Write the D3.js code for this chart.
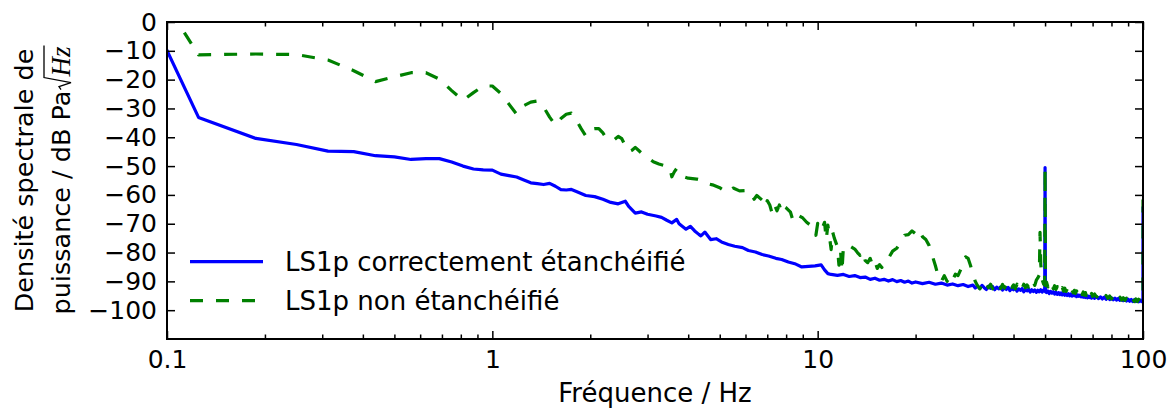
<!DOCTYPE html>
<html><head><meta charset="utf-8">
<script src="https://cdn.jsdelivr.net/npm/d3@7"></script>
<style>body{margin:0;background:#fff} svg text{font-family:"DejaVu Sans",sans-serif;fill:#000}</style>
</head><body><svg id="c" width="1173" height="411"></svg>
<script>
const xTicks=[0.1,1,10,100];
const xTickLabels=["0.1","1","10","100"];
const yTicks=[0,-10,-20,-30,-40,-50,-60,-70,-80,-90,-100];
const seriesNames=["LS1p correctement étanchéifié","LS1p non étanchéifié"];
const xLabel="Fréquence / Hz";
const yLabel1="Densité spectrale de";
const yLabel2="puissance / dB Pa";
const yLabelUnit="Hz";

// [frequency Hz, dB]
const blueData=[
[0.0625,39],[0.125,-33.1],[0.1875,-40.4],[0.25,-42.5],[0.3125,-44.8],[0.375,-45.0],[0.4375,-46.4],[0.5,-46.8],
[0.5625,-47.7],[0.625,-47.4],[0.6875,-47.4],[0.75,-48.6],[0.8125,-50.0],[0.875,-51.0],[0.9375,-51.3],[1.0,-51.4],
[1.0625,-52.8],[1.125,-53.3],[1.1875,-53.8],[1.25,-54.8],[1.3125,-55.8],[1.375,-56.1],[1.4375,-56.4],[1.5,-56.0],
[1.5625,-57.0],[1.625,-58.2],[1.6875,-58.3],[1.75,-58.1],[1.8125,-58.8],[1.9375,-60.2],[2.0625,-60.6],[2.1875,-61.5],
[2.3125,-62.6],[2.4375,-63.1],[2.5625,-62.2],[2.625,-64.0],[2.75,-66.3],[2.875,-65.9],[3.0,-66.7],[3.1875,-67.3],
[3.3125,-67.8],[3.4375,-68.8],[3.5625,-69.7],[3.6875,-68.5],[3.75,-70.0],[3.9375,-71.9],[4.0625,-70.9],[4.1875,-72.5],
[4.3125,-73.7],[4.375,-74.2],[4.5,-72.9],[4.6875,-75.5],[4.875,-75.2],[5.0625,-76.3],[5.3125,-77.2],[5.5625,-77.8],
[5.875,-78.3],[6.125,-79.3],[6.4375,-79.8],[6.75,-80.7],[7.0625,-81.2],[7.4375,-82.0],[7.75,-82.4],[8.125,-83.3],
[8.5625,-84.0],[8.9375,-85.0],[9.375,-84.8],[9.8125,-84.6],[10.25,-84.3],[10.5,-86.0],[10.75,-87.3],[11.0,-87.6],
[11.5,-87.9],[12.0,-87.6],[12.5,-88.3],[13.0,-88.0],[13.5,-88.7],[14.0,-88.5],[14.5,-89.3],[15.0,-88.9],[15.5,-89.6],
[16.0,-89.3],[16.5,-89.9],[17.0,-89.4],[17.5,-90.1],[18.0,-89.7],[18.5,-90.3],[19.0,-89.9],[19.5,-90.6],[20.0,-90.2],
[21,-90.8],[22,-90.3],[23,-91.0],[24,-90.6],[25,-91.3],[26,-90.9],[27,-91.5],[28,-91.1],[29,-91.8],[30,-91.3],
[30.5,-92.3],[31,-91.6],[31.5,-92.5],[32,-91.4],[32.5,-92.2],[33,-92.8],[33.5,-91.7],[34,-92.4],[34.5,-91.8],[35,-92.9],
[35.5,-92.0],[36,-92.6],[36.5,-91.9],[37,-93.0],[37.5,-92.2],[38,-92.8],[38.5,-92.1],[39,-93.2],[39.5,-92.4],[40,-92.9],
[40.5,-92.3],[41,-93.4],[41.5,-92.6],[42,-93.1],[42.5,-92.5],[43,-93.6],[43.5,-92.8],[44,-93.3],[44.5,-92.7],[45,-93.7],
[45.5,-92.9],[46,-93.5],[46.5,-93.0],[47,-93.8],[47.5,-93.1],[48,-93.6],[48.5,-92.9],[49,-93.7],[49.5,-93.0],[49.875,-93.2],
[50,-50.5],[50.125,-93.6],[50.5,-93.9],[51,-93.3],[51.5,-94.2],[52,-93.5],[52.5,-94.1],[53,-93.6],[53.5,-94.4],[54,-93.8],
[54.5,-94.5],[55,-93.9],[55.5,-94.6],[56,-94.0],[56.5,-94.7],[57,-94.1],[57.5,-94.8],[58,-94.2],[58.5,-94.9],[59,-94.3],
[59.5,-95.0],[60,-94.4],[60.5,-95.1],[61,-94.5],[61.5,-95.0],[62,-94.6],[62.5,-95.3],[63,-94.7],[63.5,-95.2],[64,-94.8],
[64.5,-95.4],[65,-94.9],[65.5,-95.5],[66,-95.0],[66.5,-95.6],[67,-95.0],[67.5,-95.7],[68,-95.1],[68.5,-95.6],[69,-95.2],
[69.5,-95.8],[70,-95.2],[71,-95.9],[72,-95.3],[73,-96.0],[74,-95.4],[75,-96.1],[76,-95.5],[77,-96.2],[78,-95.6],
[79,-96.3],[80,-95.7],[81,-96.4],[82,-95.8],[83,-96.5],[84,-95.9],[85,-96.6],[86,-96.0],[87,-96.7],[88,-96.1],
[89,-96.8],[90,-96.2],[91,-96.9],[92,-96.3],[93,-97.0],[94,-96.4],[95,-97.0],[96,-96.5],[97,-97.1],[98,-96.5],
[99,-97.0],[99.9375,-96.6],[100,-64]
];
const greenData=[
[0.0625,42],[0.125,-11.4],[0.1875,-11.1],[0.25,-11.3],[0.3125,-13.2],[0.375,-16.9],[0.4375,-20.7],[0.5,-19.0],
[0.5625,-17.6],[0.625,-17.6],[0.6875,-19.8],[0.75,-23.8],[0.8125,-27.2],[0.875,-24.5],[0.9375,-22.2],[1.0,-22.2],
[1.0625,-24.8],[1.125,-28.5],[1.1875,-32.0],[1.25,-29.0],[1.3125,-27.8],[1.375,-27.4],[1.4375,-29.5],[1.5,-33.0],
[1.5625,-35.8],[1.625,-33.5],[1.6875,-32.0],[1.75,-31.6],[1.8125,-34.0],[1.875,-37.0],[1.9375,-39.5],[2.0,-37.2],
[2.0625,-37.0],[2.125,-37.0],[2.1875,-38.5],[2.25,-40.6],[2.3125,-41.0],[2.375,-40.8],[2.4375,-39.7],[2.5,-40.5],
[2.5625,-43.0],[2.625,-45.0],[2.6875,-44.5],[2.75,-43.5],[2.8125,-44.5],[2.875,-45.5],[3.0,-47.0],[3.125,-48.5],
[3.25,-49.3],[3.375,-49.8],[3.5,-50.2],[3.5625,-53.7],[3.625,-52.0],[3.6875,-50.8],[3.75,-51.5],[3.875,-53.7],
[4.0,-54.2],[4.25,-54.5],[4.5,-55.2],[4.625,-56.2],[4.75,-56.5],[5.0,-57.5],[5.125,-58.3],[5.25,-59.2],[5.5,-57.6],
[5.75,-58.6],[6.0,-58.5],[6.25,-59.0],[6.375,-61.5],[6.5,-60.2],[6.75,-61.8],[6.875,-64.2],[7.0,-62.0],[7.125,-63.5],
[7.25,-66.5],[7.375,-63.6],[7.5,-65.5],[7.625,-63.5],[7.75,-66.0],[7.875,-64.0],[8.0,-64.5],[8.25,-66.0],[8.375,-68.5],
[8.5,-66.5],[8.75,-67.2],[9.0,-68.0],[9.25,-69.5],[9.5,-70.5],[9.75,-71.5],[9.875,-74.0],[10.0,-69.9],[10.25,-72.5],
[10.5,-69.5],[10.625,-75.5],[10.75,-70.5],[10.875,-74.5],[11.0,-79.0],[11.125,-73.0],[11.25,-75.0],[11.5,-78.0],
[11.625,-84.4],[11.75,-79.0],[11.875,-86.5],[12.0,-78.0],[12.25,-77.4],[12.5,-77.6],[12.75,-78.2],[13.0,-78.8],
[13.25,-80.0],[13.5,-81.0],[13.75,-79.5],[14.0,-82.8],[14.25,-83.5],[14.5,-82.0],[14.75,-84.5],[15.0,-83.0],
[15.25,-85.5],[15.5,-84.2],[15.75,-85.2],[16.0,-83.0],[16.5,-82.0],[17.0,-79.5],[17.5,-78.5],[18.0,-76.5],[18.5,-74.0],
[19.0,-73.8],[19.5,-72.5],[20.0,-73.5],[20.5,-72.0],[21.0,-74.5],[21.5,-75.5],[22.0,-77.5],[22.5,-81.0],[23.0,-84.5],
[23.5,-88.4],[24.0,-90.0],[24.5,-88.0],[25.0,-90.0],[25.5,-88.0],[26.0,-89.5],[26.5,-87.5],[27.0,-88.0],[27.5,-86.0],
[28.0,-84.0],[28.5,-81.5],[29.0,-82.0],[29.5,-84.5],[30.0,-87.5],[30.5,-90.0],[31,-91.5],[31.5,-92.6],[32,-91.2],
[32.5,-92.4],[33,-90.8],[33.5,-92.2],[34,-91.0],[34.5,-92.6],[35,-91.3],[35.5,-92.0],[36,-90.9],[36.5,-92.5],[37,-91.1],
[37.5,-92.3],[38,-91.0],[38.5,-92.7],[39,-91.4],[39.5,-92.1],[40,-91.2],[40.5,-92.6],[41,-91.0],[41.5,-92.3],[42,-91.3],
[42.5,-92.5],[43,-91.0],[43.5,-92.2],[44,-91.2],[44.5,-92.0],[45,-90.6],[45.5,-91.8],[46,-90.5],[46.5,-91.4],[47,-89.6],
[47.5,-88.8],[48,-87.8],[48.25,-73.0],[48.5,-84.0],[49,-89.5],[49.5,-91.0],[49.875,-90.5],[50,-50.8],[50.125,-91.5],
[50.5,-90.2],[51,-91.9],[51.5,-90.6],[52,-92.0],[52.5,-91.2],[53,-92.6],[53.5,-91.5],[54,-92.8],[54.5,-91.8],[55,-93.0],
[55.5,-92.0],[56,-93.2],[56.5,-92.2],[57,-93.4],[57.5,-92.4],[58,-93.5],[58.5,-92.6],[59,-93.7],[59.5,-92.8],[60,-93.9],
[60.5,-93.0],[61,-94.0],[61.5,-93.1],[62,-94.2],[62.5,-93.3],[63,-94.3],[63.5,-93.4],[64,-94.5],[64.5,-93.6],[65,-94.6],
[65.5,-93.7],[66,-94.8],[66.5,-93.9],[67,-94.9],[67.5,-94.0],[68,-95.0],[68.5,-94.1],[69,-95.1],[69.5,-94.2],[70,-95.2],
[71,-94.4],[72,-95.4],[73,-94.6],[74,-95.6],[75,-94.8],[76,-95.8],[77,-94.9],[78,-95.9],[79,-95.1],[80,-96.1],
[81,-95.2],[82,-96.2],[83,-95.4],[84,-96.4],[85,-95.5],[86,-96.5],[87,-95.7],[88,-96.6],[89,-95.8],[90,-96.8],
[91,-95.9],[92,-96.9],[93,-96.0],[94,-97.0],[95,-96.1],[96,-97.0],[97,-96.2],[98,-96.9],[99,-96.3],[99.9375,-96.2],[100,-60]
];

const L=167,R=1143,T=22,B=339;
const svg=d3.select("#c");
const x=d3.scaleLog().domain([0.1,100]).range([L,R]);
const y=d3.scaleLinear().domain([-110,0]).range([B,T]);

svg.append("defs").append("clipPath").attr("id","clip").append("rect")
  .attr("x",L).attr("y",T).attr("width",R-L).attr("height",B-T);

const line=d3.line().x(d=>x(d[0])).y(d=>y(d[1]));
const plot=svg.append("g").attr("clip-path","url(#clip)");
plot.append("path").datum(blueData).attr("d",line).attr("fill","none")
  .attr("stroke","#0000ff").attr("stroke-width",3.2).attr("stroke-linejoin","round");
plot.append("path").datum(greenData).attr("d",line).attr("fill","none")
  .attr("stroke","#008000").attr("stroke-width",3.2).attr("stroke-dasharray","13,13").attr("stroke-linejoin","round");

// minor ticks
const minor=[];
[0.1,1,10].forEach(d=>{for(let k=2;k<=9;k++)minor.push(d*k);});
const fmtY=d=>d<0?"\u2212"+Math.abs(d):String(d);
function styleAxis(g){g.select(".domain").remove();g.selectAll("line").attr("stroke","#000").attr("stroke-width",1.5);}

svg.append("g").attr("transform",`translate(0,${B})`)
  .call(d3.axisBottom(x).tickValues(xTicks).tickFormat((d,i)=>xTickLabels[i]).tickSize(-8).tickPadding(11))
  .call(styleAxis).selectAll("text").attr("font-size",25).attr("font-family","DejaVu Sans");
svg.append("g").attr("transform",`translate(0,${B})`)
  .call(d3.axisBottom(x).tickValues(minor).tickFormat("").tickSize(-4.5)).call(styleAxis);
svg.append("g").attr("transform",`translate(0,${T})`)
  .call(d3.axisTop(x).tickValues(xTicks).tickFormat("").tickSize(-8)).call(styleAxis);
svg.append("g").attr("transform",`translate(0,${T})`)
  .call(d3.axisTop(x).tickValues(minor).tickFormat("").tickSize(-4.5)).call(styleAxis);
svg.append("g").attr("transform",`translate(${L},0)`)
  .call(d3.axisLeft(y).tickValues(yTicks).tickFormat(fmtY).tickSize(-8).tickPadding(10))
  .call(styleAxis).selectAll("text").attr("font-size",25).attr("font-family","DejaVu Sans");
svg.append("g").attr("transform",`translate(${R},0)`)
  .call(d3.axisRight(y).tickValues(yTicks).tickFormat("").tickSize(-8)).call(styleAxis);

svg.append("rect").attr("x",L).attr("y",T).attr("width",R-L).attr("height",B-T)
  .attr("fill","none").attr("stroke","#000").attr("stroke-width",2);

// x label
svg.append("text").attr("x",(L+R)/2).attr("y",402).attr("text-anchor","middle")
  .attr("font-size",26).text(xLabel);

// y label
const yl=svg.append("g").attr("transform",`translate(0,${(T+B)/2}) rotate(-90)`);
yl.append("text").attr("x",0).attr("y",33).attr("text-anchor","middle").attr("font-size",25.5).text(yLabel1);
const t2=yl.append("text").attr("x",0).attr("y",70).attr("text-anchor","middle").attr("font-size",25.5);
t2.append("tspan").text(yLabel2);
t2.append("tspan").attr("dx",14).attr("font-family","Liberation Serif").attr("font-style","italic").attr("font-size",27).text(yLabelUnit);
const tn=t2.node();
const n1=yLabel2.length;
const ea=tn.getExtentOfChar(n1-1), ez=tn.getExtentOfChar(n1+1);
const radX=ea.x+ea.width+1, radTop=70-26, radEnd=ez.x+ez.width+1;
yl.append("path").attr("d",`M${radX},${70-9} L${radX+3},${70-11} L${radX+7},${70+1} L${radX+12},${radTop} L${radEnd},${radTop}`)
  .attr("fill","none").attr("stroke","#000").attr("stroke-width",1.3);

// legend
const leg=[{c:"#0000ff",dash:null,y:261.7},{c:"#008000",dash:"13,13",y:300.7}];
leg.forEach((d,i)=>{
  svg.append("line").attr("x1",190).attr("x2",263).attr("y1",d.y).attr("y2",d.y)
    .attr("stroke",d.c).attr("stroke-width",3.2).attr("stroke-dasharray",d.dash);
  svg.append("text").attr("x",285).attr("y",d.y+9.5).attr("font-size",26).text(seriesNames[i]);
});
</script></body></html>
